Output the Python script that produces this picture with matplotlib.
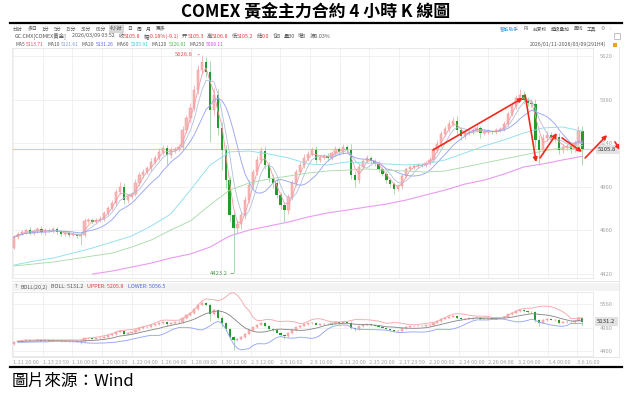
import numpy as np
import pandas as pd
import matplotlib
matplotlib.use("Agg")
import matplotlib.pyplot as plt
from matplotlib.lines import Line2D
from matplotlib.patches import Rectangle
import matplotlib.transforms as mtrans

plt.rcParams['font.family'] = ['Noto Sans CJK SC', 'DejaVu Sans']

# ---------------- data (8-hour candles) ----------------
first_open = 4563.0
closes = [
    4624, 4640, 4651, 4662, 4646, 4657, 4668, 4651, 4662, 4657,
    4668, 4651, 4640, 4646, 4635, 4640, 4629, 4635, 4712, 4717,
    4706, 4717, 4723, 4756, 4783, 4811, 4871, 4899, 4827, 4849,
    4860, 4921, 4965, 4981, 5003, 5037, 5059, 5092, 5114, 5075,
    5103, 5108, 5119, 5213, 5279, 5334, 5433, 5543, 5587, 5532,
    5323, 5405, 5224, 5103, 4937, 4745, 4673, 4695, 4745, 4827,
    4910, 4981, 5048, 5097, 5020, 4948, 4921, 4855, 4800, 4772,
    4844, 4921, 4981, 5020, 5059, 5081, 5103, 5048, 5064, 5070,
    5059, 5086, 5108, 5092, 5119, 5103, 4965, 4937, 5009, 5042,
    5059, 5042, 5026, 4998, 4970, 4937, 4915, 4888, 4904, 4959,
    4998, 5009, 5015, 5020, 5020, 5031, 5048, 5103, 5136, 5191,
    5218, 5246, 5262, 5213, 5180, 5196, 5202, 5213, 5224, 5196,
    5202, 5207, 5202, 5213, 5218, 5246, 5301, 5345, 5389, 5405,
    5378, 5361, 5356, 5158, 5103, 5169, 5185, 5169, 5174, 5103,
    5119, 5125, 5108, 5141, 5207, 5105.8,
]
wick_up = [
    8, 10, 12, 8, 15, 10, 12, 14, 10, 9,
    12, 10, 9, 14, 10, 11, 8, 12, 15, 10,
    12, 9, 14, 10, 12, 15, 18, 25, 20, 12,
    14, 20, 15, 18, 14, 20, 16, 22, 15, 18,
    14, 12, 16, 20, 18, 25, 30, 28, 39.8, 30,
    60, 40, 35, 30, 25, 20, 15, 22, 18, 20,
    25, 18, 20, 22, 25, 18, 20, 22, 15, 18,
    14, 18, 16, 15, 20, 14, 16, 22, 12, 10,
    14, 12, 15, 10, 16, 12, 30, 20, 14, 12,
    15, 12, 10, 14, 12, 15, 12, 10, 14, 12,
    10, 12, 8, 10, 12, 10, 14, 16, 20, 18,
    15, 20, 22, 25, 18, 15, 12, 10, 14, 12,
    10, 12, 8, 10, 12, 14, 18, 20, 15, 33,
    20, 18, 15, 30, 25, 20, 22, 15, 18, 20,
    15, 12, 14, 18, 25, 30,
]
wick_dn = [
    5, 10, 8, 12, 10, 9, 12, 10, 14, 8,
    10, 12, 9, 10, 14, 8, 12, 49, 12, 10,
    9, 12, 10, 14, 12, 10, 15, 12, 20, 15,
    14, 12, 15, 18, 12, 15, 14, 12, 16, 55,
    14, 16, 12, 18, 15, 20, 18, 22, 20, 30,
    176, 30, 40, 111, 45, 40, 249.8, 30, 25, 22,
    18, 20, 15, 18, 22, 20, 25, 18, 20, 66,
    20, 15, 18, 12, 14, 16, 12, 18, 14, 12,
    15, 12, 14, 16, 12, 15, 20, 38, 14, 12,
    10, 14, 12, 15, 12, 14, 16, 28, 12, 14,
    10, 8, 12, 10, 9, 12, 10, 14, 12, 15,
    12, 14, 10, 30, 20, 15, 12, 14, 10, 25,
    12, 10, 14, 12, 10, 12, 14, 12, 15, 18,
    20, 15, 18, 40, 83, 20, 18, 15, 20, 25,
    15, 18, 20, 15, 12, 86,
]
# long moving averages (every 5th candle)
ma60_vals = [4469, 4491, 4508, 4535, 4563, 4596, 4629, 4684, 4750, 4882,
             5020, 5092, 5097, 5081, 5059, 5026, 5020, 5037, 5031, 5026,
             5020, 5026, 5048, 5086, 5125, 5158, 5196, 5224, 5229, 5206]
ma120_vals = [4464, 4475, 4486, 4502, 4519, 4535, 4568, 4607, 4662, 4712,
              4800, 4882, 4921, 4943, 4959, 4976, 4987, 4992, 4998, 4992,
              4987, 4981, 4987, 5009, 5031, 5053, 5075, 5097, 5114, 5127]
ma250_start = 20
ma250_vals = [4420, 4436, 4458, 4480, 4508, 4530, 4568, 4629, 4662, 4684,
              4706, 4734, 4756, 4772, 4789, 4805, 4827, 4855, 4882, 4915,
              4937, 4970, 5009, 5026, 5048, 5068]

x_labels = ['1.11 20:00', '1.13 23:59', '1.16 00:00', '1.20 00:00', '1.22 04:00',
            '1.26 04:00', '1.28 08:00', '1.30 12:00', '2.3 12:00', '2.5 16:00',
            '2.9 16:00', '2.11 20:00', '2.15 20:00', '2.17 23:59', '2.20 00:00',
            '2.24 00:00', '2.26 04:00', '3.2 04:00', '3.4 00:00', '3.6 16:00']
main_yticks = [4420, 4660, 4900, 5140, 5380, 5620]
boll_yticks = [4400, 4980, 5560]

# hand-drawn trend arrows (candle index, price)
arrows = [((106.9, 5103), (129.8, 5389)),
          ((130.4, 5405), (133.2, 5036)),
          ((134.2, 5059), (138.5, 5196)),
          ((139.8, 5169), (144.9, 5092)),
          ((145.7, 5059), (151.3, 5185)),
          ((153.3, 5147), (154.6, 5103))]

title = 'COMEX 黃金主力合約 4 小時 K 線圖'
source = '圖片來源：Wind'

# ---------------- derived ----------------
c = np.array(closes, float)
o = np.array([first_open] + closes[:-1], float)
hi = np.maximum(o, c) + np.array(wick_up, float)
lo = np.minimum(o, c) - np.array(wick_dn, float)
n = len(c)
xi = np.arange(n)
s = pd.Series(c)
ma5 = s.rolling(3, min_periods=1).mean()
ma10 = s.rolling(5, min_periods=1).mean()
ma20 = s.rolling(10, min_periods=1).mean()
mid = s.rolling(10, min_periods=2).mean()
sd = s.rolling(10, min_periods=2).std(ddof=0)
upper = mid + 2 * sd
lower = mid - 2 * sd

# ---------------- figure ----------------
W, H = 630, 397
fig = plt.figure(figsize=(6.3, 3.97), dpi=100)
fig.patch.set_facecolor('white')

def fx(x): return x / W
def fy(y): return 1 - y / H

ax = fig.add_axes([fx(12), fy(278), (593 - 12) / W, (278 - 48) / H])
ax2 = fig.add_axes([fx(12), fy(356), (593 - 12) / W, (356 - 292) / H])

UP_FACE, UP_EDGE, UP_WICK = '#f7baba', '#f09090', '#f3a8a8'
DN_FACE, DN_WICK = '#229c2c', '#96d296'

def candles(a, body_min, width=0.58):
    up = c >= o
    a.vlines(xi[up], lo[up], hi[up], color=UP_WICK, lw=0.55, zorder=3)
    a.vlines(xi[~up], lo[~up], hi[~up], color=DN_WICK, lw=0.55, zorder=3)
    a.bar(xi[up], np.maximum(c - o, body_min)[up], bottom=o[up], width=width,
          color=UP_FACE, edgecolor=UP_EDGE, linewidth=0.35, zorder=4)
    a.bar(xi[~up], np.maximum(o - c, body_min)[~up], bottom=c[~up], width=width,
          color=DN_FACE, linewidth=0, zorder=4)

tick_pos = np.arange(len(x_labels)) * 7.577 - 0.255
for a in (ax, ax2):
    a.set_xlim(-0.5, 147.7)
    a.set_xticks(tick_pos)
    a.grid(True, color='#efefef', lw=0.6, zorder=0)
    a.set_axisbelow(True)
    a.yaxis.tick_right()
    a.tick_params(axis='y', length=0, pad=5, labelsize=4.2, labelcolor='#a5a5a5')
    a.tick_params(axis='x', length=0)
    for sp in a.spines.values():
        sp.set_color('#e6e6e6')
        sp.set_linewidth(0.6)

# main panel
ax.set_ylim(4398, 5664)
ax.set_yticks(main_yticks)
ax.set_xticklabels([])
ax.axhline(c[-1], color='#f8c3a3', lw=0.8, zorder=2)
candles(ax, 2.5)
ax.plot(xi, ma5, color='#f49aa8', lw=0.6, zorder=5)
ax.plot(xi, ma10, color='#b2c0da', lw=0.6, zorder=5)
ax.plot(xi, ma20, color='#9aa5f2', lw=0.65, zorder=5)
idx5 = np.arange(0, n, 5)
ax.plot(idx5, ma60_vals, color='#8fdeec', lw=0.65, zorder=5)
ax.plot(idx5, ma120_vals, color='#aadcaa', lw=0.65, zorder=5)
ax.plot(np.arange(ma250_start, n, 5), ma250_vals, color='#ea9af3', lw=0.8, zorder=5)

imax, imin = int(np.argmax(hi)), int(np.argmin(lo))
ax.annotate(f'{hi[imax]:.1f}', xy=(imax, hi[imax]), xytext=(-7, 0),
            textcoords='offset points', ha='right', va='center', fontsize=4.2,
            color='#e0505a', arrowprops=dict(arrowstyle='-', lw=0.5, color='#e0505a'),
            annotation_clip=False)
ax.annotate(f'{lo[imin]:.1f}', xy=(imin, lo[imin]), xytext=(-4, 0),
            textcoords='offset points', ha='right', va='center', fontsize=4.2,
            color='#4a9a4a', arrowprops=dict(arrowstyle='-', lw=0.5, color='#4a9a4a'),
            annotation_clip=False)

btrans = mtrans.blended_transform_factory(ax.transAxes, ax.transData)
ax.text(1.009, c[-1], f'{c[-1]:.1f}', transform=btrans, fontsize=4.3, color='#333',
        va='center', ha='left', zorder=8,
        bbox=dict(boxstyle='square,pad=0.35', fc='#e2e2e2', ec='none'))

for (x0, y0), (x1, y1) in arrows:
    ax.annotate('', xy=(x1, y1), xytext=(x0, y0), annotation_clip=False,
                arrowprops=dict(arrowstyle='-|>', color='#f2281c', lw=1.2,
                                mutation_scale=6, shrinkA=0, shrinkB=0), zorder=10)

# BOLL panel
ax2.set_ylim(4277, 5856)
ax2.set_yticks(boll_yticks)
ax2.set_xticklabels(x_labels, ha='left')
ax2.tick_params(axis='x', labelsize=4.0, labelcolor='#a5a5a5', pad=3)
candles(ax2, 8, width=0.55)
ax2.plot(xi, mid, color='#8a8a8a', lw=0.65, zorder=5)
ax2.plot(xi, upper, color='#f4a8ae', lw=0.65, zorder=5)
ax2.plot(xi, lower, color='#97a6f6', lw=0.65, zorder=5)
b2 = mtrans.blended_transform_factory(ax2.transAxes, ax2.transData)
ax2.text(1.007, 5131.2, '5131.2', transform=b2, fontsize=4.3, color='#333',
         va='center', ha='left', zorder=8,
         bbox=dict(boxstyle='square,pad=0.35', fc='#e2e2e2', ec='none'))

# ---------------- frame lines ----------------
fig.add_artist(Line2D([fx(10), fx(622)], [fy(23), fy(23)], color='black', lw=1.6))
fig.add_artist(Line2D([fx(10), fx(622)], [fy(367), fy(367)], color='black', lw=1.6))
fig.add_artist(Line2D([fx(619), fx(619)], [fy(47), fy(357)], color='#e3e3e3', lw=0.6))
fig.add_artist(Line2D([fx(12), fx(619)], [fy(281), fy(281)], color='#e3e3e3', lw=0.6))
fig.add_artist(Line2D([fx(12), fx(619)], [fy(357), fy(357)], color='#e3e3e3', lw=0.6))
fig.add_artist(Rectangle((fx(12), fy(291)), (619 - 12) / W, 8 / H,
                         transform=fig.transFigure, fc='#f3f3f3', ec='none', zorder=0))

# ---------------- texts ----------------
fig.text(fx(316), fy(12), title, ha='center', va='center', fontsize=12.2,
         family=['Noto Sans CJK TC', 'DejaVu Sans'], weight='bold', color='black')
fig.text(fx(12), fy(381), source, ha='left', va='center', fontsize=12,
         family=['Noto Sans CJK TC', 'DejaVu Sans'], color='black')

renderer = fig.canvas.get_renderer()

def run(x, y, pieces, size, bold_box=None):
    for txt, color, gap in pieces:
        kw = {}
        if txt == bold_box:
            kw = dict(bbox=dict(boxstyle='square,pad=0.25', fc='#d6d6d6', ec='none'))
        t = fig.text(fx(x), fy(y), txt, color=color, fontsize=size, va='center', ha='left', **kw)
        x += t.get_window_extent(renderer).width + gap

G, R = '#555555', '#e23b3b'
row1 = ['分时', '多日', '1分', '5分', '15分', '30分', '60分', '4小时', '日', '周', '月', '更多']
run(13, 29, [(t, G, 4.5) for t in row1], 3.5, bold_box='4小时')

run(500, 29, [('智能助手', '#2a9fd6', 4), ('F9', G, 4), ('前复权', G, 4), ('超级叠加', G, 4),
              ('画线', G, 4), ('工具', G, 4), ('⚙', '#888', 5), ('›', '#888', 0)], 3.4)

run(15, 36, [('GC.CMX[COMEX黄金]', G, 5), ('2026/03/09 03:52', G, 4),
             ('收', G, 0), ('5105.8', R, 3), ('幅', G, 0), ('-0.18%(-9.1)', R, 3),
             ('开', G, 0), ('5105.3', R, 3), ('高', G, 0), ('5106.8', R, 3),
             ('低', G, 0), ('5105.2', R, 3), ('结', G, 0), ('0.0', R, 3),
             ('仓0', G, 3), ('量30', G, 3), ('增0', G, 3), ('振0.03%', G, 0)], 3.9)

run(15, 44, [('MA5', G, 1.5), ('5113.71', '#e8536a', 3), ('MA10', G, 1.5), ('5121.61', '#7f9ac8', 3),
             ('MA20', G, 1.5), ('5131.26', '#5865e0', 3), ('MA60', G, 1.5), ('5205.91', '#3cc8dc', 3),
             ('MA120', G, 1.5), ('5126.81', '#4cb84c', 3), ('MA250', G, 1.5), ('5068.11', '#d548e8', 0)], 3.5)

fig.text(fx(606), fy(44), '2026/01/11-2026/03/09(291H4)', color=G, fontsize=3.8,
         va='center', ha='right')
fig.add_artist(Rectangle((fx(613), fy(46.5)), 4 / W, 4 / H, transform=fig.transFigure,
                         fc='#f0a020', ec='none'))
fig.add_artist(Rectangle((fx(614), fy(39)), 6 / W, 6 / H, transform=fig.transFigure,
                         fc='white', ec='#aaaaaa', lw=0.5))

run(15, 287, [('?', '#777', 3), ('BOLL(20,2)', G, 3), ('BOLL: 5131.2', G, 4),
              ('UPPER: 5205.8', R, 4), ('LOWER: 5056.5', '#4a63e8', 0)], 3.9)

fig.savefig('out.png', dpi=100, facecolor='white')
